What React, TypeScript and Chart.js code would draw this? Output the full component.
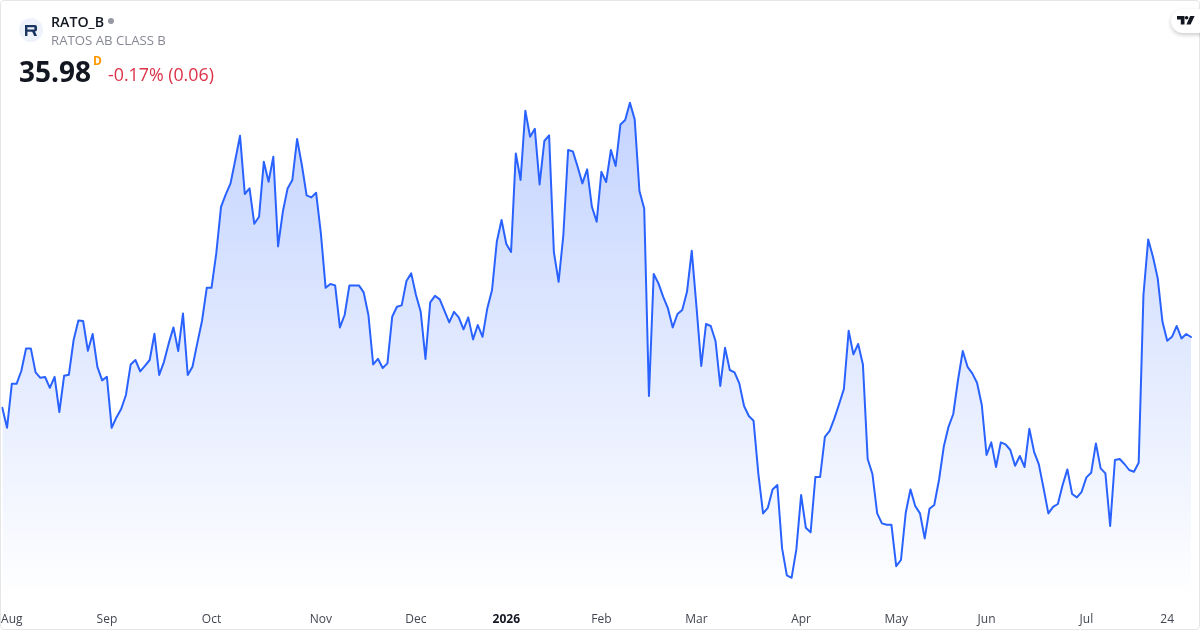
import React, { useEffect, useRef } from "react";
import { Chart, registerables } from "chart.js";

Chart.register(...registerables);

const periodNames = ["", "Aug", "Sep", "Oct", "Nov", "Dec", "2026", "Feb", "Mar", "Apr", "May", "Jun", "Jul", "24"];
const sessionsPerPeriod = [2, 20, 22, 23, 20, 19, 20, 20, 22, 20, 19, 21, 17, 6];

const closes = [
  32.44, 31.44, 33.64, 33.64, 34.28, 35.41, 35.41, 34.21, 33.94, 33.98,
  33.44, 33.99, 32.23, 34.04, 34.09, 35.83, 36.81, 36.78, 35.29, 36.13,
  34.49, 33.81, 33.99, 31.44, 31.96, 32.38, 33.08, 34.61, 34.83, 34.26,
  34.54, 34.83, 36.14, 34.08, 34.74, 35.66, 36.46, 35.28, 37.15, 34.08,
  34.49, 35.66, 36.78, 38.44, 38.44, 40.16, 42.49, 43.11, 43.66, 44.83,
  46.04, 43.13, 43.41, 41.64, 41.99, 44.74, 43.74, 44.99, 40.51, 42.24,
  43.41, 43.83, 45.88, 44.58, 43.06, 42.96, 43.19, 41.16, 38.44, 38.63,
  38.56, 36.46, 37.08, 38.56, 38.56, 38.56, 38.21, 37.08, 34.61, 34.89,
  34.43, 34.66, 36.99, 37.49, 37.56, 38.78, 39.16, 38.08, 37.24, 34.88,
  37.71, 38.04, 37.86, 37.29, 36.71, 37.24, 36.96, 36.36, 36.96, 35.86,
  36.58, 35.99, 37.41, 38.33, 40.74, 41.83, 40.63, 40.23, 45.16, 43.83,
  47.29, 45.99, 46.39, 43.61, 45.78, 46.06, 40.24, 38.74, 41.08, 45.33,
  45.26, 44.49, 43.66, 44.36, 42.49, 41.74, 44.24, 43.73, 45.33, 44.53,
  46.61, 46.83, 47.69, 46.86, 43.28, 42.41, 33.03, 39.13, 38.66, 37.99,
  37.41, 36.46, 37.13, 37.33, 38.24, 40.29, 37.49, 34.53, 36.63, 36.53,
  35.78, 33.53, 35.44, 34.33, 34.21, 33.66, 32.53, 32.03, 31.79, 29.16,
  27.16, 27.44, 28.36, 28.58, 25.41, 24.06, 23.94, 25.36, 28.08, 26.44,
  26.21, 28.98, 28.98, 30.99, 31.29, 31.91, 32.63, 33.38, 36.29, 35.11,
  35.63, 34.61, 29.88, 29.13, 27.16, 26.66, 26.59, 26.59, 24.52, 24.83,
  27.18, 28.36, 27.53, 27.16, 25.91, 27.39, 27.58, 28.83, 30.49, 31.49,
  32.13, 33.83, 35.28, 34.49, 34.16, 33.69, 32.58, 30.08, 30.71, 29.48,
  30.71, 30.61, 30.33, 29.54, 30.03, 29.48, 31.39, 30.24, 29.61, 28.41,
  27.16, 27.49, 27.63, 28.58, 29.36, 28.13, 27.96, 28.24, 28.96, 29.19,
  30.66, 29.41, 29.16, 26.53, 29.83, 29.88, 29.63, 29.33, 29.24, 29.69,
  38.08, 40.86, 39.99, 38.91, 36.74, 35.79, 35.99, 36.53, 35.91, 36.13,
  35.98,
];

const categories: string[] = [];
periodNames.forEach((name, p) => {
  for (let s = 0; s < sessionsPerPeriod[p]; s++) categories.push(s === 0 ? name : "");
});

const FONT = '"Open Sans", sans-serif';

export default function App() {
  const ref = useRef<HTMLCanvasElement | null>(null);

  useEffect(() => {
    if (!ref.current) return;
    const chart = new Chart(ref.current, {
      type: "line",
      data: {
        labels: categories,
        datasets: [
          {
            data: closes,
            borderColor: "#2962FF",
            borderWidth: 2,
            borderJoinStyle: "round",
            borderCapStyle: "round",
            pointRadius: 0,
            tension: 0,
            fill: "start",
            backgroundColor: (ctx: any) => {
              const c = ctx.chart.ctx as CanvasRenderingContext2D;
              const g = c.createLinearGradient(0, 100, 0, 600);
              g.addColorStop(0, "rgba(41,98,255,0.28)");
              g.addColorStop(1, "rgba(41,98,255,0.0)");
              return g;
            },
          },
        ],
      },
      options: {
        responsive: false,
        animation: false,
        devicePixelRatio: 1,
        layout: { padding: { left: 2.3, right: 9, top: 0, bottom: 0 } },
        plugins: { legend: { display: false }, tooltip: { enabled: false }, title: { display: false } },
        scales: {
          x: {
            type: "category",
            offset: false,
            grid: { display: false },
            border: { display: false },
            afterFit: (scale: any) => {
              scale.height = 30;
              scale.paddingLeft = 0;
              scale.paddingRight = 0;
            },
            ticks: {
              autoSkip: false,
              maxRotation: 0,
              minRotation: 0,
              padding: 4,
              color: (ctx: any) => (ctx.tick?.label === "2026" ? "#131722" : "#434651"),
              font: (ctx: any) => ({
                family: FONT,
                size: 12,
                weight: ctx.tick?.label === "2026" ? "bold" : "normal",
              }),
            },
          },
          y: { display: false, min: 22.83, max: 52.83 },
        },
      } as any,
    });
    return () => chart.destroy();
  }, []);

  const abs = (s: React.CSSProperties): React.CSSProperties => ({
    position: "absolute",
    whiteSpace: "nowrap",
    fontFamily: FONT,
    ...s,
  });

  return (
    <div style={{ position: "fixed", left: 0, top: 0, width: 1200, height: 630, background: "#fff", overflow: "hidden" }}>
      <canvas ref={ref} width={1200} height={630} style={{ position: "absolute", left: 0, top: 0, width: 1200, height: 630 }} />
      <div
        style={{
          position: "absolute",
          left: 0,
          top: 0,
          width: 1200,
          height: 630,
          boxSizing: "border-box",
          border: "1px solid #e6e6e6",
          borderRadius: 4,
          pointerEvents: "none",
        }}
      />
      <div style={abs({ left: 19, top: 18, width: 24, height: 24, borderRadius: 12, background: "#eef2fa" })} />
      <svg style={{ position: "absolute", left: 25, top: 25 }} width="12" height="11" viewBox="0 0 12 11">
        <path
          fillRule="evenodd"
          d="M0 0H10Q12 0 12 2V4.6Q12 6.6 10 6.6L12 11H9.2L7.2 6.7H2.4V11H0ZM2.4 2.2V4.6H9.4V2.2Z"
          fill="#1b3561"
        />
      </svg>
      <div style={abs({ left: 51, top: 11.5, lineHeight: "19px", fontSize: 14.2, fontWeight: 600, color: "#131722" })}>RATO_B</div>
      <div style={abs({ left: 108, top: 17.5, width: 6, height: 6, borderRadius: 3, background: "#9598a1" })} />
      <div style={abs({ left: 51, top: 31, lineHeight: "18px", fontSize: 13.2, color: "#868993" })}>RATOS AB CLASS B</div>
      <div style={abs({ left: 19, top: 52, lineHeight: "38px", fontSize: 28, fontWeight: 700, color: "#131722" })}>35.98</div>
      <div style={abs({ left: 93, top: 53, lineHeight: "16px", fontSize: 12, fontWeight: 700, color: "#ff9800" })}>D</div>
      <div style={abs({ left: 108, top: 62, lineHeight: "24px", fontSize: 17.8, color: "#dc3249" })}>-0.17% (0.06)</div>
      <div
        style={{
          position: "absolute",
          left: 1171,
          top: 9,
          width: 40,
          height: 24,
          borderRadius: 12,
          background: "#fff",
          boxShadow: "0 2px 4px rgba(0,0,0,0.2)",
        }}
      />
      <svg style={{ position: "absolute", left: 1177, top: 16 }} width="18" height="9" viewBox="0 0 18 9">
        <path d="M0 0H7.5V8.5H3.8V3.4H0Z" fill="#131722" />
        <circle cx="9.6" cy="1.8" r="1.8" fill="#131722" />
        <path d="M13.2 0H17.6L13.6 8.5H9.4Z" fill="#131722" />
      </svg>
    </div>
  );
}
